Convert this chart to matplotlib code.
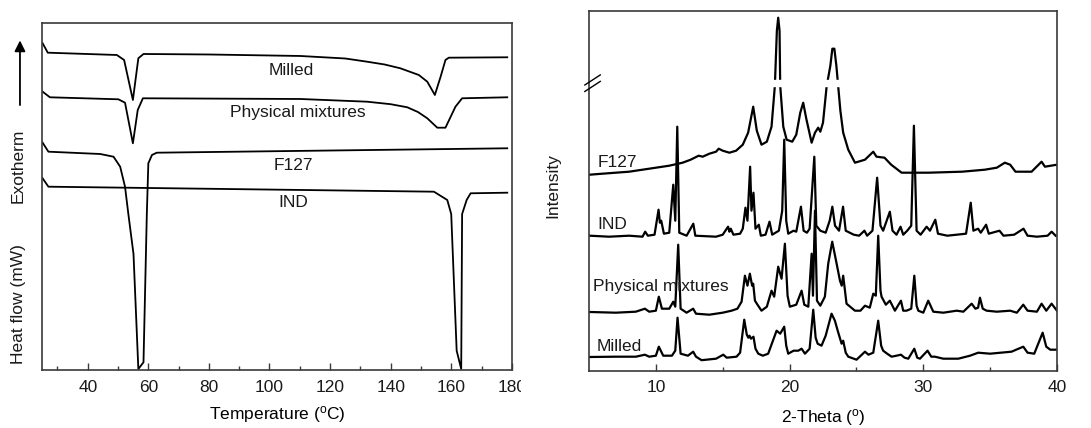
import numpy as np
import matplotlib
matplotlib.use("Agg")
import matplotlib.pyplot as plt

# ── STYLE ──────────────────────────────────────────────────
LINE  = "#000000"
FRAME = "#3a3a3a"
TEXT  = "#1a1a1a"

plt.rcParams.update({
    "font.family":      ["Liberation Sans", "DejaVu Sans"],
    "mathtext.fontset": "custom",
    "mathtext.rm":      "Liberation Sans",
    "font.size":        12.5,
    "text.color":       TEXT,
    "axes.edgecolor":   FRAME,
    "axes.linewidth":   1.2,
    "xtick.color":      FRAME,
    "xtick.labelcolor": TEXT,
})

# ── DSC (temperature in °C, heat flow in arbitrary units) ──
DSC_MILLED = [(25.1, 326.7), (26.8, 317.3), (49.6, 315.0), (52.0, 310.0), (54.9, 270.0),
              (56.7, 311.7), (58.4, 316.0), (80.0, 315.5), (110.2, 314.0), (125.0, 311.5),
              (132.2, 308.3), (138.0, 305.5), (143.2, 301.7), (149.3, 295.0), (152.1, 288.3),
              (154.6, 275.0), (156.5, 293.3), (158.1, 310.0), (159.2, 312.3), (178.5, 312.7)]
DSC_PHYS   = [(25.1, 278.3), (27.5, 272.7), (50.1, 270.7), (52.3, 267.3), (54.9, 226.7),
              (56.5, 260.0), (58.2, 271.7), (110.2, 271.0), (132.2, 268.3), (140.0, 265.8),
              (145.5, 262.7), (149.0, 258.0), (152.1, 251.7), (155.4, 242.3), (158.1, 242.3),
              (161.4, 263.3), (163.6, 271.7), (178.5, 272.7)]
DSC_F127   = [(25.1, 227.3), (27.0, 218.3), (44.1, 216.0), (48.5, 213.3), (50.7, 203.3),
              (52.3, 183.3), (53.4, 156.0), (55.1, 116.0), (56.7, 1.0), (58.4, 7.7),
              (59.5, 156.0), (60.0, 206.7), (61.2, 215.0), (62.8, 217.3), (178.5, 221.7)]
DSC_IND    = [(25.1, 191.7), (27.0, 183.3), (154.3, 178.3), (158.7, 170.0), (160.0, 156.0),
              (161.8, 19.3), (163.3, 1.0), (163.6, 156.0), (165.1, 170.0), (166.4, 176.7),
              (178.5, 177.3)]

DSC_NAMES  = ["Milled", "Physical mixtures", "F127", "IND"]
DSC_LABEL_POS = [(107.2, 299), (109.4, 257), (107.9, 204), (107.9, 167)]

# ── XRD (2-theta in degrees, intensity in arbitrary units) ─
XRD_F127 = [(5.05, 196), (6.0, 197), (7.0, 198), (8.0, 199), (9.0, 201), (10.0, 203),
            (11.0, 205), (12.0, 208), (12.6, 211), (13.2, 215), (13.5, 214), (14.0, 217),
            (14.5, 219), (14.7, 222), (15.0, 220), (15.5, 218), (16.0, 220), (16.5, 226),
            (16.9, 238), (17.28, 264), (17.55, 240), (17.9, 226), (18.3, 229), (18.65, 244),
            (18.9, 285), (19.05, 340), (19.15, 353), (19.25, 340), (19.3, 285), (19.53, 244),
            (19.78, 231), (20.2, 229), (20.5, 236), (20.8, 258), (21.02, 268), (21.25, 252),
            (21.65, 228), (21.9, 238), (22.14, 243), (22.3, 239), (22.5, 248), (22.77, 284),
            (23.05, 305), (23.2, 322), (23.35, 322), (23.5, 305), (23.64, 284), (23.8, 260),
            (24.01, 238), (24.39, 221), (24.89, 208), (25.64, 211), (26.26, 219), (26.5, 214),
            (27.1, 213), (27.6, 206), (28.38, 198), (30.4, 198), (32.9, 199), (34.6, 201),
            (35.5, 203), (36.1, 208), (36.5, 206), (36.9, 199), (38.1, 199), (38.85, 209),
            (39.1, 204), (40.0, 206)]
XRD_IND  = [(5.05, 135), (6.5, 134), (8.0, 135), (9.0, 134), (9.2, 139), (9.4, 135),
            (9.9, 136), (10.2, 161), (10.3, 148), (10.4, 150), (10.6, 137), (11.0, 138),
            (11.3, 186), (11.45, 150), (11.6, 244), (11.75, 138), (12.3, 135), (12.8, 147),
            (12.95, 135), (14.5, 134), (15.0, 136), (15.4, 144), (15.5, 139), (15.6, 142),
            (15.8, 136), (16.3, 137), (16.5, 142), (16.7, 163), (16.85, 150), (17.05, 204),
            (17.15, 160), (17.3, 178), (17.45, 142), (17.7, 146), (17.85, 135), (18.2, 136),
            (18.5, 149), (18.7, 136), (19.2, 140), (19.45, 160), (19.6, 231), (19.75, 150),
            (19.9, 137), (20.3, 140), (20.5, 139), (20.85, 164), (21.05, 140), (21.3, 138),
            (21.5, 142), (21.85, 214), (22.0, 145), (22.3, 140), (22.7, 138), (23.0, 150),
            (23.2, 164), (23.4, 145), (23.7, 140), (24.0, 164), (24.2, 140), (24.8, 136),
            (25.2, 135), (25.6, 140), (25.8, 135), (26.2, 140), (26.55, 193), (26.8, 145),
            (27.0, 140), (27.5, 159), (27.7, 140), (28.0, 136), (28.3, 144), (28.5, 136),
            (28.8, 140), (29.1, 145), (29.3, 245), (29.5, 140), (29.8, 136), (30.25, 144),
            (30.5, 140), (30.9, 151), (31.1, 137), (31.8, 135), (32.5, 136), (33.2, 137),
            (33.55, 168), (33.75, 140), (34.1, 142), (34.3, 138), (34.7, 146), (34.9, 137),
            (35.7, 140), (36.0, 135), (36.8, 136), (37.5, 142), (37.8, 135), (38.5, 134),
            (39.3, 135), (39.6, 139), (39.9, 135)]
XRD_PHYS = [(5.06, 58.7), (7.0, 58), (8.5, 59), (9.18, 62), (9.5, 59), (10.0, 60),
            (10.22, 74), (10.45, 62), (11.0, 62), (11.3, 69), (11.45, 64), (11.67, 126),
            (11.85, 62), (12.3, 58), (12.79, 62), (13.0, 57), (14.0, 56), (15.0, 58),
            (15.66, 60), (16.1, 62), (16.41, 69), (16.66, 95), (16.85, 85), (17.03, 97),
            (17.2, 85), (17.28, 87), (17.41, 70), (17.6, 66), (17.9, 60), (18.3, 64),
            (18.65, 80), (18.85, 74), (19.15, 104), (19.4, 92), (19.65, 127), (19.85, 75),
            (20.02, 64), (20.5, 66), (20.9, 80), (21.1, 66), (21.4, 64), (21.65, 117),
            (21.75, 75), (21.9, 160), (22.05, 70), (22.3, 65), (22.64, 74), (22.89, 107),
            (23.19, 129), (23.52, 107), (23.77, 90), (23.9, 85), (24.01, 95), (24.26, 67),
            (24.89, 60), (25.3, 60), (25.64, 65), (26.0, 63), (26.26, 77), (26.45, 75),
            (26.63, 135), (26.8, 80), (26.88, 74), (27.2, 66), (27.5, 70), (27.88, 60),
            (28.33, 70), (28.5, 60), (28.75, 60), (29.1, 62), (29.33, 95), (29.5, 65),
            (29.63, 60), (30.0, 58), (30.37, 70), (30.75, 59), (31.5, 58), (32.5, 60),
            (33.0, 59), (33.62, 67), (33.9, 62), (34.1, 63), (34.24, 73), (34.45, 62),
            (34.74, 60), (35.5, 59), (36.5, 60), (37.0, 58), (37.48, 66), (37.8, 60),
            (38.5, 59), (38.85, 67), (39.2, 60), (39.6, 67), (40.0, 60)]
XRD_MILLED = [(5.06, 13.7), (7.0, 14), (8.5, 14), (9.18, 16), (9.5, 14), (10.0, 15),
              (10.22, 24), (10.55, 15), (11.2, 15), (11.45, 20), (11.62, 53), (11.85, 17),
              (12.4, 15), (12.79, 19), (13.0, 14), (13.42, 10.5), (14.5, 12), (15.04, 16),
              (15.3, 13), (16.03, 14), (16.3, 18), (16.61, 51), (16.8, 36), (16.91, 33),
              (17.0, 35), (17.11, 32), (17.3, 34), (17.45, 22), (17.66, 17), (18.0, 15),
              (18.4, 17), (18.7, 28), (19.03, 40), (19.3, 37), (19.6, 44), (19.75, 25),
              (19.9, 17), (20.3, 20), (20.65, 20), (20.9, 22), (21.15, 17), (21.5, 22),
              (21.77, 61), (21.95, 33), (22.1, 27), (22.39, 25), (22.7, 35), (23.14, 57),
              (23.39, 50), (23.6, 40), (23.89, 27), (24.01, 30), (24.2, 18), (24.39, 14),
              (25.01, 11), (25.64, 19), (25.9, 16), (26.26, 18), (26.63, 50), (26.85, 25),
              (27.0, 20), (27.3, 17), (27.63, 14), (28.0, 15), (28.33, 16), (28.6, 13),
              (28.88, 12), (29.33, 22), (29.55, 13), (29.75, 12), (30.32, 20), (30.6, 14),
              (30.87, 14), (31.5, 12), (32.62, 12), (33.5, 15), (34.11, 18), (35.0, 17),
              (35.8, 18), (36.6, 19), (37.48, 24), (37.8, 18), (38.3, 17), (38.93, 38),
              (39.2, 24), (39.5, 21), (40.0, 21)]

XRD_NAMES = ["F127", "IND", "Physical mixtures", "Milled"]
XRD_LABEL_POS = [(5.66, 208), (5.66, 146), (5.29, 84), (5.59, 24)]

# gap in the F127 pattern where the axis is broken
BREAK_LOW, BREAK_HIGH = 284.5, 290.5


def xy(points):
    arr = np.array(points, dtype=float)
    return arr[:, 0], arr[:, 1]


def style_axis(ax):
    ax.tick_params(axis="x", which="both", direction="in", top=False, pad=7)
    ax.tick_params(axis="x", which="major", length=5, width=1.0)
    ax.tick_params(axis="x", which="minor", length=3, width=1.0)
    ax.tick_params(axis="y", left=False, labelleft=False)


fig = plt.figure(figsize=(10.91, 4.28), dpi=100)

# ── LEFT: DSC ──────────────────────────────────────────────
ax1 = fig.add_axes([0.0388, 0.1355, 0.4303, 0.8115])
for trace in [DSC_MILLED, DSC_PHYS, DSC_F127, DSC_IND]:
    t, h = xy(trace)
    ax1.plot(t, h, color=LINE, lw=1.3)
for name, (tx, ty) in zip(DSC_NAMES, DSC_LABEL_POS):
    ax1.text(tx, ty, name, ha="center", va="center", fontsize=12.5)
ax1.set_xlim(25, 180)
ax1.set_ylim(0, 347.3)
ax1.set_xticks(np.arange(40, 181, 20))
ax1.set_xticks(np.arange(30, 181, 20), minor=True)
style_axis(ax1)
ax1.set_xlabel(r"Temperature ($\mathregular{^{o}}$C)", labelpad=7)

fig.text(0.0165, 0.29, "Heat flow (mW)", rotation=90, ha="center", va="center")
fig.text(0.0165, 0.612, "Exotherm", rotation=90, ha="center", va="center")
ax1.annotate("", xy=(0.0183, 0.912), xytext=(0.0183, 0.748),
             xycoords="figure fraction", textcoords="figure fraction",
             annotation_clip=False,
             arrowprops=dict(arrowstyle="-|>", color=LINE, lw=1.3, mutation_scale=16))

# ── RIGHT: XRD ─────────────────────────────────────────────
ax2 = fig.add_axes([0.5399, 0.1339, 0.4289, 0.8411])
for trace in [XRD_F127, XRD_IND, XRD_PHYS, XRD_MILLED]:
    th, inten = xy(trace)
    ax2.plot(th, inten, color=LINE, lw=1.6)
for name, (tx, ty) in zip(XRD_NAMES, XRD_LABEL_POS):
    ax2.text(tx, ty, name, ha="left", va="center", fontsize=12.5)
ax2.axhspan(BREAK_LOW, BREAK_HIGH, color="white", zorder=2.2)
ax2.set_xlim(5, 40)
ax2.set_ylim(0, 360)
ax2.set_xticks([10, 20, 30, 40])
ax2.set_xticks([15, 25, 35], minor=True)
style_axis(ax2)
ax2.set_xlabel(r"2-Theta ($\mathregular{^{o}}$)", labelpad=8)
fig.text(0.507, 0.567, "Intensity", rotation=90, ha="center", va="center")

# axis-break marks on the left spine
yb = (BREAK_LOW + BREAK_HIGH) / 2 / 360
for dy in (-0.009, 0.009):
    ax2.plot([-0.009, 0.024], [yb + dy - 0.014, yb + dy + 0.014], color=LINE,
             lw=1.0, transform=ax2.transAxes, clip_on=False, zorder=3)

# the right panel sits on top of the "180" label's last digit
fig.patches.append(plt.Rectangle((0.4775, 0.05), 0.04, 0.1, transform=fig.transFigure,
                                 facecolor="white", edgecolor="none", zorder=5))

fig.savefig("out.png", dpi=100)
